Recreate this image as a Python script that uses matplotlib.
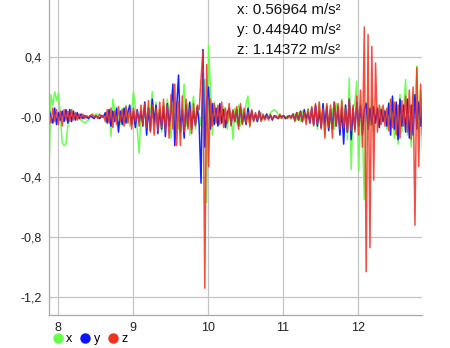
import numpy as np
import matplotlib
matplotlib.use("Agg")
import matplotlib.pyplot as plt
from matplotlib.lines import Line2D

# accelerometer samples, cm/s^2 (converted to m/s^2 below)
T_START = 7.886
DT = 0.025

X_CM = [
    -36, 15, 8, 17, 11, 16, 2, -17, -19, -18,
    -6, 3, 5, -1, 2, 1, -1, -2, -3, -4,
    -3, -2, 0, 1, 1, 2, 2, 1, 0, 1,
    2, -3, 5, -13, 12, 4, -2, 3, -5, 6,
    -3, 8, 2, -6, 4, 17, 6, -8, -24, 3,
    -4, 8, -5, 6, 3, 17, -6, 10, -3, 5,
    -10, 9, -6, 12, 4, -14, 8, -5, 10, -8,
    -4, 6, 22, -6, 9, -12, 5, 14, -8, 6,
    2, -6, 10, 25, -57, 48, 20, -12, 10, 4,
    -5, 6, -3, 7, 2, -8, 4, 3, -15, 6,
    -4, 8, -6, 5, -3, 9, 14, -7, 4, -3,
    2, -3, 1, 3, -2, 1, 2, -1, 3, 4,
    5, 4, 2, -1, 1, 0, -1, 1, 0, -1,
    1, 2, -2, 3, -3, 4, 2, -4, 6, -2,
    3, -5, 7, -8, 10, -6, 4, -12, 8, -7,
    -3, 6, -8, 9, 4, -10, 12, -6, 8, -15,
    26, -35, 5, 10, 24, -36, 6, -8, -55, 10,
    8, -6, 12, -10, 5, 4, -6, 7, -3, 5,
    -8, 10, -5, 12, -14, 8, -18, 15, -10, 6,
    25, -12, 8, -20, 15, 10, 34, -10, 18, -22,
]

Y_CM = [
    5, 0, -4, 6, -5, 3, -2, 4, -3, 5,
    -4, 5, -3, 4, -2, 3, -1, 2, -1, 1,
    0, -1, 1, 0, -1, 1, 0, -1, 1, 0,
    3, -4, 5, -6, 4, -3, 6, -10, 4, -5,
    6, -4, 3, 8, -5, 4, -7, 5, -3, 4,
    -6, 10, -12, 6, -9, 12, -4, 8, -11, 5,
    -8, 7, -13, 9, -6, 4, 22, -19, 6, 28,
    -10, 5, -14, 8, -6, 10, -8, 4, -5, 7,
    -5, -44, 45, -20, 10, 20, -8, 9, -5, 6,
    -6, 9, -4, 5, -7, 3, 6, -5, 4, -3,
    5, -6, 7, -4, 3, -5, 6, -3, 4, -2,
    2, -3, 4, -2, 1, -1, 2, -1, 1, -2,
    1, 0, -1, 1, 0, 1, -1, 0, 1, 0,
    2, -2, 3, -2, 4, -3, 5, -1, 3, -4,
    6, -5, 8, -6, 4, -7, 9, -5, 7, -9,
    5, -8, 10, -6, 7, -12, 6, -18, 8, -10,
    12, -15, 6, -8, 10, -6, 8, -12, 5, 9,
    -8, 6, -5, 7, -4, 6, -7, 5, -3, 4,
    -6, 9, -12, 14, -8, 10, -15, 12, -6, 8,
    -10, 12, -14, 8, -12, 15, -8, 10, -6, 5,
]

Z_CM = [
    3, -4, 6, -3, 5, -5, 4, -6, 5, -2,
    4, -3, 5, -2, 3, -2, 2, -1, 2, -1,
    1, 0, 1, 2, 0, 1, -1, 2, 0, 1,
    -3, 5, -4, 6, -7, 4, -5, 7, -3, 5,
    -6, 7, -4, 5, -8, 6, -3, 4, -6, 8,
    -5, 9, -7, 11, -10, 8, -12, 6, -9, 10,
    -7, 12, -9, 8, -14, 15, -8, 22, -19, 10,
    -19, 14, -10, 12, -8, 6, -11, 9, -6, 8,
    5, 26, 44, -114, 35, -33, 12, -6, 9, -4,
    8, -5, 10, -7, 6, -4, 9, -6, 5, -3,
    7, -8, 9, -5, 6, -4, 3, -6, 5, -3,
    3, -2, 4, -3, 2, -2, 1, -2, 2, -1,
    0, 1, -1, 2, -1, 1, 0, -1, 1, -1,
    2, -3, 3, -2, 4, -3, 3, -5, 5, -4,
    7, -6, 9, -5, 10, -8, 6, -14, 9, -7,
    8, -14, 10, -6, 9, -8, 11, -7, 6, -10,
    12, -9, 8, -10, 14, -12, 18, -20, 60, -103,
    55, -87, 47, -42, 36, -10, 8, -5, 8, -6,
    6, -9, 12, -7, 10, -12, 8, -14, 11, -6,
    14, -10, 18, -15, 20, -72, 33, -33, 22, -12,
]

SERIES_NAMES = ["x", "y", "z"]
PEAK_TEXT = ["x: 0.56964 m/s²", "y: 0.44940 m/s²", "z: 1.14372 m/s²"]
Y_TICKS = [-1.2, -0.8, -0.4, 0.0, 0.4]
Y_TICK_LABELS = ["-1,2", "-0,8", "-0,4", "-0,0", "0,4"]
X_TICKS = [8, 9, 10, 11, 12]

COLORS = ["#66ff4a", "#0a14ff", "#f2301e"]

plt.rcParams["font.family"] = ["Liberation Sans", "DejaVu Sans"]

fig = plt.figure(figsize=(4.5, 3.48), dpi=100)
ax = fig.add_axes([0.108, 0.095, 0.829, 0.905])

series = [np.array(s) / 100.0 for s in (X_CM, Y_CM, Z_CM)]
t = T_START + DT * np.arange(len(X_CM))

for vals, col, a in zip(series, COLORS, (0.95, 0.95, 0.85)):
    ax.plot(t, vals, color=col, lw=1.1, alpha=a)

ax.set_xlim(7.88, 12.85)
ax.set_ylim(-1.318, 0.78)
ax.set_xticks(X_TICKS)
ax.set_yticks(Y_TICKS)
ax.set_yticklabels(Y_TICK_LABELS)
ax.tick_params(length=0, labelsize=9, colors="#222222")
ax.tick_params(axis="y", pad=5)
ax.tick_params(axis="x", pad=5)
ax.grid(True, color="#c4c4c4", lw=0.9)
ax.set_axisbelow(True)
for side in ("top", "right"):
    ax.spines[side].set_visible(False)
for side in ("left", "bottom"):
    ax.spines[side].set_color("#a8a8a8")
    ax.spines[side].set_linewidth(0.9)

for k, txt in enumerate(PEAK_TEXT):
    fig.text(237 / 450, 1 - (14 + 20 * k) / 348, txt, fontsize=10.8,
             color="#111111", ha="left", va="baseline")

handles = [Line2D([], [], ls="none", marker="o", ms=6.5, color=c) for c in COLORS]
fig.legend(handles, SERIES_NAMES, loc="center left", ncol=3,
           bbox_to_anchor=(0.112, 0.026), frameon=False, fontsize=9,
           handletextpad=0.05, columnspacing=0.45, handlelength=1.2,
           borderaxespad=0, borderpad=0)

fig.savefig("out.png", dpi=100)
